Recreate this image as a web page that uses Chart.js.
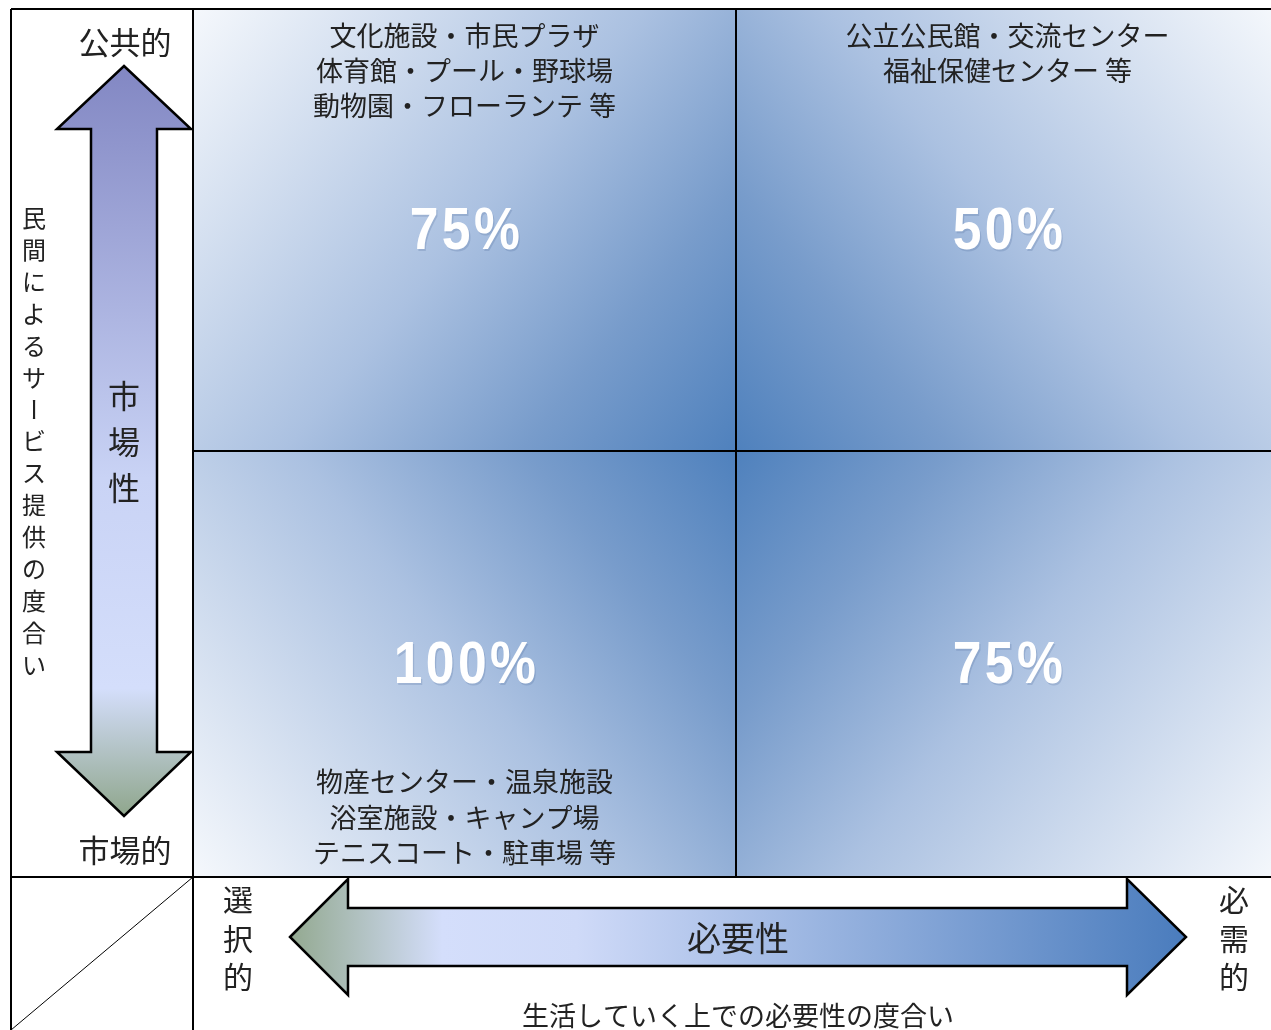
<!DOCTYPE html>
<html lang="ja">
<head>
<meta charset="utf-8">
<script src="https://cdn.jsdelivr.net/npm/chart.js@4/dist/chart.umd.min.js"></script>
<style>
  html, body { margin: 0; padding: 0; background: #fff; overflow: hidden; }
  /* 右端のセルは画面の外まで続く */
  #wrap { width: 1279px; height: 1030px; position: relative; }
</style>
</head>
<body>
<div id="wrap"><canvas id="matrix"></canvas></div>
<script>
/* ============================================================
 * 公共施設の分類マトリクス（必要性 × 市場性）
 * ============================================================ */

// 横軸（必要性）のカテゴリ：左 → 右
const colCats = ['選択的', '必需的'];
// 縦軸（市場性）のカテゴリ：上 → 下
const rowCats = ['公共的', '市場的'];

// 各セルの割合（%）
const publicShare = [75, 50];   // 公共的 行
const marketShare = [100, 75];  // 市場的 行

// 各セルの施設例
const publicFacilities = [
  ['文化施設・市民プラザ', '体育館・プール・野球場', '動物園・フローランテ 等'],
  ['公立公民館・交流センター', '福祉保健センター 等'],
];
const marketFacilities = [
  ['物産センター・温泉施設', '浴室施設・キャンプ場', 'テニスコート・駐車場 等'],
  [],
];

// 軸の説明
const xAxisName = '必要性';
const xAxisDesc = '生活していく上での必要性の度合い';
const yAxisName = '市場性';
const yAxisDesc = '民間によるサービス提供の度合い';

const JP = '"Noto Sans CJK JP", "Noto Sans", sans-serif';
const INK = '#222';

// セル：公共的 = 上段 [1,2]、市場的 = 下段 [0,1]
function cellGradient(c) {
  const chart = c.chart;
  const a = chart.chartArea;
  if (!a) return '#9db5d9';
  const xs = chart.scales.x, ys = chart.scales.y;
  const cx = (xs.getPixelForValue(0) + xs.getPixelForValue(1)) / 2;
  const cy = ys.getPixelForValue(1);
  const ox = c.dataIndex === 0 ? a.left : a.right;
  const oy = c.datasetIndex === 0 ? a.top : a.bottom;
  const g = chart.ctx.createLinearGradient(ox, oy, cx, cy);
  g.addColorStop(0, '#f5f8fc');
  g.addColorStop(0.5, '#abc1e1');
  g.addColorStop(0.76, '#789ccb');
  g.addColorStop(1, '#4f81bd');
  return g;
}

function vText(ctx, str, x, y0, step) {
  [...str].forEach((ch, i) => {
    const y = y0 + i * step;
    if (ch === 'ー') {
      ctx.save();
      ctx.translate(x, y);
      ctx.rotate(Math.PI / 2);
      ctx.fillText(ch, 0, 0);
      ctx.restore();
    } else {
      ctx.fillText(ch, x, y);
    }
  });
}

const matrixPlugin = {
  id: 'matrix',
  afterDraw(chart) {
    const { ctx, chartArea: a } = chart;
    const xs = chart.scales.x, ys = chart.scales.y;
    const H = chart.height;
    const midX = (xs.getPixelForValue(0) + xs.getPixelForValue(1)) / 2;
    const midY = ys.getPixelForValue(1);
    const frameL = a.left - 182;

    ctx.save();
    // 枠線
    ctx.strokeStyle = '#000';
    ctx.lineWidth = 2;
    ctx.beginPath();
    ctx.moveTo(frameL, a.top); ctx.lineTo(a.right, a.top);
    ctx.moveTo(frameL, a.top); ctx.lineTo(frameL, H);
    ctx.moveTo(a.left, a.top); ctx.lineTo(a.left, H);
    ctx.moveTo(frameL, a.bottom); ctx.lineTo(a.right, a.bottom);
    ctx.moveTo(midX, a.top); ctx.lineTo(midX, a.bottom);
    ctx.moveTo(a.left, midY); ctx.lineTo(a.right, midY);
    ctx.stroke();
    ctx.lineWidth = 1;
    ctx.beginPath();
    ctx.moveTo(frameL, H); ctx.lineTo(a.left, a.bottom);
    ctx.stroke();

    // 割合
    const rows = [publicShare, marketShare];
    rows.forEach((vals, r) => {
      vals.forEach((v, i) => {
        const x = xs.getPixelForValue(i) + 2;
        const y = r === 0 ? (a.top + midY) / 2 + 2 : (midY + a.bottom) / 2 + 2;
        ctx.save();
        ctx.translate(x, y);
        ctx.scale(0.86, 1);
        ctx.font = 'bold 60px "Liberation Sans", Arial, sans-serif';
        ctx.letterSpacing = '4px';
        ctx.textAlign = 'center';
        ctx.textBaseline = 'middle';
        ctx.fillStyle = 'rgba(60,90,140,0.2)';
        ctx.fillText(v + '%', 1.5, 2);
        ctx.fillStyle = '#fff';
        ctx.fillText(v + '%', 0, 0);
        ctx.restore();
      });
    });

    // 施設例
    ctx.fillStyle = INK;
    ctx.font = '27px ' + JP;
    ctx.textAlign = 'center';
    ctx.textBaseline = 'middle';
    publicFacilities.forEach((lines, i) => {
      const x = xs.getPixelForValue(i);
      lines.forEach((t, k) => ctx.fillText(t, x, a.top + 27 + k * 35));
    });
    marketFacilities.forEach((lines, i) => {
      const x = xs.getPixelForValue(i);
      const n = lines.length;
      lines.forEach((t, k) => ctx.fillText(t, x, a.bottom - 24 - (n - 1 - k) * 35.5));
    });

    // 縦の矢印（市場性）
    const ax = a.left - 69;
    const top = a.top + 57, topBase = a.top + 120;
    const bot = a.bottom - 61, botBase = a.bottom - 125;
    const sw = 33, hw = 67;
    const vg = ctx.createLinearGradient(0, top, 0, bot);
    vg.addColorStop(0, '#8287c3');
    vg.addColorStop(0.55, '#c9d3f5');
    vg.addColorStop(0.83, '#d4defb');
    vg.addColorStop(1, '#8fa68c');
    ctx.beginPath();
    ctx.moveTo(ax, top);
    ctx.lineTo(ax + hw, topBase);
    ctx.lineTo(ax + sw, topBase);
    ctx.lineTo(ax + sw, botBase);
    ctx.lineTo(ax + hw, botBase);
    ctx.lineTo(ax, bot);
    ctx.lineTo(ax - hw, botBase);
    ctx.lineTo(ax - sw, botBase);
    ctx.lineTo(ax - sw, topBase);
    ctx.lineTo(ax - hw, topBase);
    ctx.closePath();
    ctx.fillStyle = vg;
    ctx.fill();
    ctx.lineWidth = 2.5;
    ctx.lineJoin = 'miter';
    ctx.strokeStyle = '#000';
    ctx.stroke();

    ctx.fillStyle = INK;
    ctx.font = '31px ' + JP;
    ctx.fillText(rowCats[0], ax + 1, a.top + 33);
    ctx.fillText(rowCats[1], ax + 1, a.bottom - 27);
    ctx.font = '32px ' + JP;
    vText(ctx, yAxisName, ax, a.top + 387, 46);
    ctx.font = '24px ' + JP;
    vText(ctx, yAxisDesc, frameL + 23, a.top + 209, 31.9);

    // 横の矢印（必要性）
    const ay = a.bottom + 60;
    const lt = a.left + 97, lb = a.left + 155;
    const rt = a.left + 993, rb = a.left + 934;
    const sh = 29, hh = 58;
    const hg = ctx.createLinearGradient(lt, 0, rt, 0);
    hg.addColorStop(0, '#93a990');
    hg.addColorStop(0.17, '#d4defb');
    hg.addColorStop(0.32, '#cfdaf8');
    hg.addColorStop(1, '#4a7cbd');
    ctx.beginPath();
    ctx.moveTo(lt, ay);
    ctx.lineTo(lb, ay - hh);
    ctx.lineTo(lb, ay - sh);
    ctx.lineTo(rb, ay - sh);
    ctx.lineTo(rb, ay - hh);
    ctx.lineTo(rt, ay);
    ctx.lineTo(rb, ay + hh);
    ctx.lineTo(rb, ay + sh);
    ctx.lineTo(lb, ay + sh);
    ctx.lineTo(lb, ay + hh);
    ctx.closePath();
    ctx.fillStyle = hg;
    ctx.fill();
    ctx.lineWidth = 2.5;
    ctx.strokeStyle = '#000';
    ctx.stroke();

    const hx = (lt + rt) / 2;
    ctx.fillStyle = INK;
    ctx.font = '34px ' + JP;
    ctx.fillText(xAxisName, hx, ay + 1);
    ctx.font = '27px ' + JP;
    ctx.fillText(xAxisDesc, hx, a.bottom + 139);
    ctx.font = '30px ' + JP;
    vText(ctx, colCats[0], a.left + 45, a.bottom + 23, 38.5);
    vText(ctx, colCats[1], a.left + 1041, a.bottom + 23, 38.5);
    ctx.restore();
  },
};

new Chart(document.getElementById('matrix').getContext('2d'), {
  type: 'bar',
  data: {
    labels: colCats,
    datasets: [
      { label: rowCats[0], data: publicShare.map(() => [1, 2]), backgroundColor: cellGradient },
      { label: rowCats[1], data: marketShare.map(() => [0, 1]), backgroundColor: cellGradient },
    ],
  },
  options: {
    responsive: true,
    maintainAspectRatio: false,
    animation: false,
    events: [],
    layout: { padding: { left: 193, top: 9, right: 0, bottom: 153 } },
    datasets: {
      bar: {
        grouped: false,
        barPercentage: 1,
        categoryPercentage: 1,
        borderWidth: 0,
        borderSkipped: false,
      },
    },
    plugins: { legend: { display: false }, tooltip: { enabled: false }, colors: { enabled: false } },
    scales: {
      x: { type: 'category', display: false, offset: true },
      // 下段は上段より少し低い
      y: { type: 'linear', min: 0.036, max: 2, display: false },
    },
  },
  plugins: [matrixPlugin],
});
</script>
</body>
</html>
